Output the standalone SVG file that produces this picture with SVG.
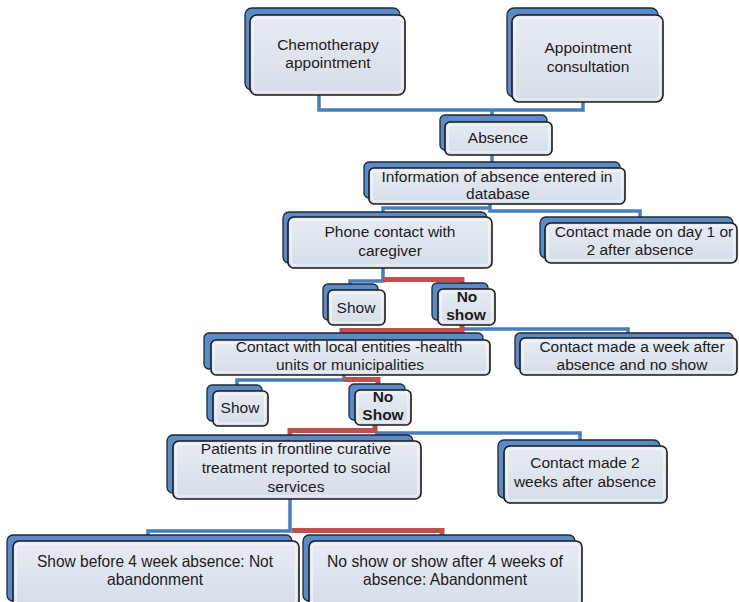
<svg xmlns="http://www.w3.org/2000/svg" width="739" height="602" viewBox="0 0 739 602">
  <defs>
    <linearGradient id="cardFill" x1="0" y1="0" x2="0" y2="1">
      <stop offset="0" stop-color="#e6ebf3"/>
      <stop offset="0.5" stop-color="#dfe5ee"/>
      <stop offset="1" stop-color="#d6dde8"/>
    </linearGradient>
    <style>
      .back { fill: #5b8bc7; stroke: #1f2a38; stroke-width: 1.3; }
      .front { fill: url(#cardFill); stroke: #1a1a1a; stroke-width: 1.6; }
      .hl { fill: none; stroke: #ffffff; stroke-opacity: 0.75; stroke-width: 1.2; }
      .lbl { font-family: "Liberation Sans", Arial, sans-serif; font-size: 15.5px; fill: #1c1c1c; text-anchor: middle; }
      .bold { font-weight: bold; }
      .big { font-size: 16.5px; }
      .blue { fill: none; stroke: #4a7dbb; stroke-width: 3.5; stroke-linejoin: miter; }
      .red { fill: none; stroke: #c0504d; stroke-width: 5; stroke-linejoin: miter; }
    </style>
  </defs>

  <rect width="739" height="602" fill="#ffffff"/>

  <!-- connectors -->
  <g id="connectors">
    <path class="blue" d="M319,95 V110 H583 V102"/>
    <path class="blue" d="M492,110 V116"/>
    <path class="blue" d="M492,155 V163"/>
    <path class="blue" d="M490,203 V208 H383 V213"/>
    <path class="blue" d="M490,208 V211 H640 V218"/>
    <path class="blue" d="M383,268 V281 H350 V285"/>
    <path class="red" d="M383,279.5 H462 V284"/>
    <path class="blue" d="M462,329 H628 V334"/>
    <path class="red" d="M462,325 V330.5 H342 V334"/>
    <path class="blue" d="M344,375 V380 H237 V386"/>
    <path class="red" d="M344,379.5 H378 V385"/>
    <path class="blue" d="M375,433 H580 V441"/>
    <path class="red" d="M375,425 V430.5 H290 V436"/>
    <path class="blue" d="M290,499 V531 H148 V536"/>
    <path class="red" d="M292,530.5 H442 V536"/>
  </g>

  <!-- Chemotherapy appointment -->
  <g id="chemo">
    <rect class="back" x="245" y="8" width="155" height="82" rx="7"/>
    <rect class="front" x="250" y="15" width="155" height="80" rx="7"/>
    <rect class="hl" x="253" y="18" width="149" height="74" rx="5"/>
    <text class="lbl" x="328" y="50">Chemotherapy</text>
    <text class="lbl" x="328" y="68">appointment</text>
  </g>

  <!-- Appointment consultation -->
  <g id="consult">
    <rect class="back" x="507" y="8" width="151" height="89" rx="7"/>
    <rect class="front" x="512" y="15" width="151" height="87" rx="7"/>
    <rect class="hl" x="515" y="18" width="145" height="81" rx="5"/>
    <text class="lbl" x="588" y="53">Appointment</text>
    <text class="lbl" x="588" y="72">consultation</text>
  </g>

  <!-- Absence -->
  <g id="absence">
    <rect class="back" x="440" y="115" width="107" height="35" rx="5"/>
    <rect class="front" x="445" y="122" width="107" height="33" rx="5"/>
    <rect class="hl" x="448" y="125" width="101" height="27" rx="3"/>
    <text class="lbl" x="498" y="143">Absence</text>
  </g>

  <!-- Information entered in database -->
  <g id="info">
    <rect class="back" x="364" y="162" width="256" height="36" rx="5"/>
    <rect class="front" x="369" y="168" width="256" height="36" rx="5"/>
    <rect class="hl" x="372" y="171" width="250" height="30" rx="3"/>
    <text class="lbl" x="497" y="182">Information of absence entered in</text>
    <text class="lbl" x="498" y="199">database</text>
  </g>

  <!-- Phone contact with caregiver -->
  <g id="phone">
    <rect class="back" x="283" y="212" width="204" height="51" rx="6"/>
    <rect class="front" x="288" y="217" width="204" height="51" rx="6"/>
    <rect class="hl" x="291" y="220" width="198" height="45" rx="4"/>
    <text class="lbl" x="390" y="237">Phone contact with</text>
    <text class="lbl" x="390" y="256">caregiver</text>
  </g>

  <!-- Contact made on day 1 or 2 -->
  <g id="day12">
    <rect class="back" x="540" y="217" width="193" height="41" rx="6"/>
    <rect class="front" x="545" y="223" width="192" height="40" rx="6"/>
    <rect class="hl" x="548" y="226" width="186" height="34" rx="4"/>
    <text class="lbl" x="644" y="237">Contact made on day 1 or</text>
    <text class="lbl" x="640" y="255">2 after absence</text>
  </g>

  <!-- Show (first level) -->
  <g id="show1">
    <rect class="back" x="323" y="284" width="55" height="36" rx="5"/>
    <rect class="front" x="328" y="290" width="57" height="35" rx="5"/>
    <rect class="hl" x="331" y="293" width="51" height="29" rx="3"/>
    <text class="lbl" x="356" y="313">Show</text>
  </g>

  <!-- No show (first level) -->
  <g id="noshow1">
    <rect class="back" x="432" y="283" width="56" height="37" rx="5"/>
    <rect class="front" x="438" y="289" width="57" height="36" rx="5"/>
    <rect class="hl" x="441" y="292" width="51" height="30" rx="3"/>
    <text class="lbl bold" x="467" y="302">No</text>
    <text class="lbl bold" x="466" y="320">show</text>
  </g>

  <!-- Contact with local entities -->
  <g id="local">
    <rect class="back" x="204" y="333" width="279" height="36" rx="5"/>
    <rect class="front" x="211" y="340" width="279" height="35" rx="5"/>
    <rect class="hl" x="214" y="343" width="273" height="29" rx="3"/>
    <text class="lbl" x="349" y="352">Contact with local entities -health</text>
    <text class="lbl" x="350" y="370">units or municipalities</text>
  </g>

  <!-- Contact made a week after absence -->
  <g id="week1">
    <rect class="back" x="515" y="333" width="218" height="36" rx="5"/>
    <rect class="front" x="520" y="338" width="217" height="37" rx="5"/>
    <rect class="hl" x="523" y="341" width="211" height="31" rx="3"/>
    <text class="lbl" x="632" y="352">Contact made a week after</text>
    <text class="lbl" x="632" y="370">absence and no show</text>
  </g>

  <!-- Show (second level) -->
  <g id="show2">
    <rect class="back" x="207" y="385" width="55" height="36" rx="5"/>
    <rect class="front" x="213" y="391" width="55" height="35" rx="5"/>
    <rect class="hl" x="216" y="394" width="49" height="29" rx="3"/>
    <text class="lbl" x="240" y="413">Show</text>
  </g>

  <!-- No Show (second level) -->
  <g id="noshow2">
    <rect class="back" x="349" y="384" width="56" height="36" rx="5"/>
    <rect class="front" x="355" y="390" width="56" height="35" rx="5"/>
    <rect class="hl" x="358" y="393" width="50" height="29" rx="3"/>
    <text class="lbl bold" x="383" y="402">No</text>
    <text class="lbl bold" x="383" y="420">Show</text>
  </g>

  <!-- Patients reported to social services -->
  <g id="patients">
    <rect class="back" x="167" y="435" width="246" height="58" rx="6"/>
    <rect class="front" x="173" y="441" width="248" height="58" rx="6"/>
    <rect class="hl" x="176" y="444" width="242" height="52" rx="4"/>
    <text class="lbl" x="296" y="454">Patients in frontline curative</text>
    <text class="lbl" x="296" y="473">treatment reported to social</text>
    <text class="lbl" x="296" y="492">services</text>
  </g>

  <!-- Contact made 2 weeks after absence -->
  <g id="week2">
    <rect class="back" x="498" y="440" width="162" height="58" rx="6"/>
    <rect class="front" x="504" y="446" width="163" height="57" rx="6"/>
    <rect class="hl" x="507" y="449" width="157" height="51" rx="4"/>
    <text class="lbl" x="585" y="468">Contact made 2</text>
    <text class="lbl" x="585" y="487">weeks after absence</text>
  </g>

  <!-- Show before 4 weeks: not abandonment -->
  <g id="notAbandon">
    <rect class="back" x="7" y="535" width="285" height="66" rx="6"/>
    <rect class="front" x="13" y="541" width="286" height="66" rx="6"/>
    <rect class="hl" x="16" y="544" width="280" height="60" rx="4"/>
    <text class="lbl big" x="155" y="567" textLength="236" lengthAdjust="spacingAndGlyphs">Show before 4 week absence: Not</text>
    <text class="lbl big" x="155" y="585" textLength="96" lengthAdjust="spacingAndGlyphs">abandonment</text>
  </g>

  <!-- No show after 4 weeks: abandonment -->
  <g id="abandon">
    <rect class="back" x="303" y="535" width="272" height="66" rx="6"/>
    <rect class="front" x="309" y="541" width="273" height="66" rx="6"/>
    <rect class="hl" x="312" y="544" width="267" height="60" rx="4"/>
    <text class="lbl big" x="445" y="567" textLength="236" lengthAdjust="spacingAndGlyphs">No show or show after 4 weeks of</text>
    <text class="lbl big" x="445" y="585" textLength="164" lengthAdjust="spacingAndGlyphs">absence: Abandonment</text>
  </g>
</svg>
